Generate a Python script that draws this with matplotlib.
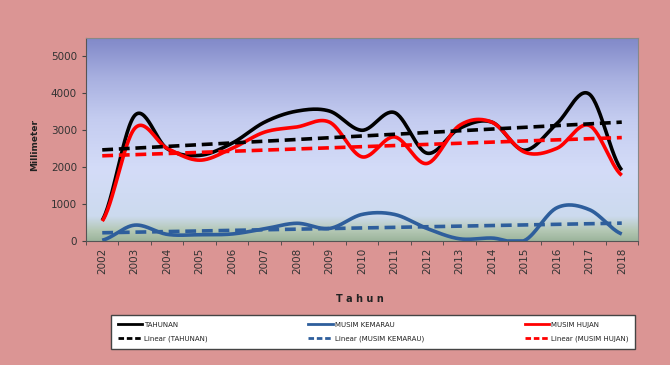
import matplotlib.pyplot as plt
import numpy as np
from matplotlib.colors import LinearSegmentedColormap
from matplotlib.lines import Line2D

years = [str(y) for y in range(2002, 2019)]
tahunan = [560, 3400, 2500, 2320, 2650, 3220, 3520, 3520, 3000, 3480, 2380, 3050, 3220, 2460, 3180, 3980, 1920]
kemarau = [20, 430, 180, 170, 190, 330, 480, 340, 720, 720, 340, 60, 80, 10, 900, 850, 190]
hujan = [540, 3050, 2510, 2190, 2510, 2950, 3090, 3220, 2280, 2820, 2100, 3130, 3220, 2410, 2510, 3130, 1780]

BG = '#DB9594'
BLUE = '#2E5E9C'


def smooth(x, y, n=30):
    # catmull-rom style smoothing, similar to excel "smoothed line"
    x = np.asarray(x, float)
    y = np.asarray(y, float)
    px = np.concatenate([[2 * x[0] - x[1]], x, [2 * x[-1] - x[-2]]])
    py = np.concatenate([[y[0]], y, [y[-1]]])
    xs, ys = [], []
    t = np.linspace(0, 1, n, endpoint=False)
    for i in range(1, len(px) - 2):
        p0, p1, p2, p3 = py[i - 1], py[i], py[i + 1], py[i + 2]
        q0, q1, q2, q3 = px[i - 1], px[i], px[i + 1], px[i + 2]
        f = lambda a0, a1, a2, a3: 0.5 * ((2 * a1) + (-a0 + a2) * t + (2 * a0 - 5 * a1 + 4 * a2 - a3) * t ** 2 + (-a0 + 3 * a1 - 3 * a2 + a3) * t ** 3)
        xs.append(f(q0, q1, q2, q3))
        ys.append(f(p0, p1, p2, p3))
    xs.append([x[-1]])
    ys.append([y[-1]])
    return np.concatenate(xs), np.concatenate(ys)


fig = plt.figure(figsize=(6.7, 3.65), dpi=100, facecolor=BG)
ax = fig.add_axes([86 / 670, 1 - 241 / 365, 552 / 670, 203 / 365])

x = np.arange(len(years))
ax.set_xlim(-0.5, len(years) - 0.5)
ax.set_ylim(0, 5500)

# gradient background
cmap = LinearSegmentedColormap.from_list('bg', [
    (0.0, '#9CB49C'), (0.05, '#B4C8B4'), (0.12, '#CCDAEE'), (0.35, '#D4DCF8'),
    (0.6, '#C4CCF0'), (0.8, '#A8B0E0'), (1.0, '#8088C8')])
grad = np.linspace(0, 1, 256).reshape(-1, 1)
ax.imshow(grad, extent=[-0.5, len(years) - 0.5, 0, 5500], origin='lower', aspect='auto', cmap=cmap, zorder=0)

series = [(tahunan, 'black', 'TAHUNAN'), (kemarau, BLUE, 'MUSIM KEMARAU'), (hujan, '#FF0000', 'MUSIM HUJAN')]
handles = []
for vals, col, name in series:
    sx, sy = smooth(x, vals)
    sy = np.clip(sy, 0, None)
    ax.plot(sx, sy, color=col, lw=2.6, zorder=3, solid_capstyle='butt')
    k, b = np.polyfit(x, vals, 1)
    ax.plot(x, k * x + b, color=col, lw=2.6, ls=(0, (3, 1.6)), zorder=4)
    handles.append(Line2D([], [], color=col, lw=2, label=name))
    handles.append(Line2D([], [], color=col, lw=2, ls=(0, (2, 1)), label='Linear (' + name + ')'))

ax.set_yticks(range(0, 5001, 1000))
ax.set_xticks(x)
ax.set_xticklabels(years, rotation=90, fontsize=7.5, color='#333333')
ax.tick_params(axis='x', length=0, pad=5)
ax.set_xticks(np.arange(-0.5, len(years), 1), minor=True)
ax.tick_params(axis='x', which='minor', length=3, color='#444444')
ax.tick_params(axis='y', labelsize=7.5, labelcolor='#333333', length=3, color='#444444')
for s in ['top', 'right']:
    ax.spines[s].set_color('#888888')
for s in ['left', 'bottom']:
    ax.spines[s].set_color('#555555')

fig.text(35 / 670, 1 - 145 / 365, 'Millimeter', rotation=90, fontsize=6.5, fontweight='bold', ha='center', va='center', color='#222222')
fig.text(360 / 670, 1 - 299 / 365, 'T a h u n', fontsize=7, fontweight='bold', ha='center', va='center', color='#222222')

leg = fig.legend(handles=handles, ncol=3, loc='center', bbox_to_anchor=(373 / 670, 1 - 332 / 365),
                 fontsize=5, frameon=True, fancybox=False, edgecolor='#444444', facecolor='white',
                 framealpha=1, handlelength=3.5, handletextpad=0.3, columnspacing=14.5,
                 borderpad=0.9, labelspacing=1.2)
leg.get_frame().set_linewidth(1)
for t in leg.get_texts():
    t.set_color('#222222')

fig.savefig('out.png', dpi=100, facecolor=BG)
